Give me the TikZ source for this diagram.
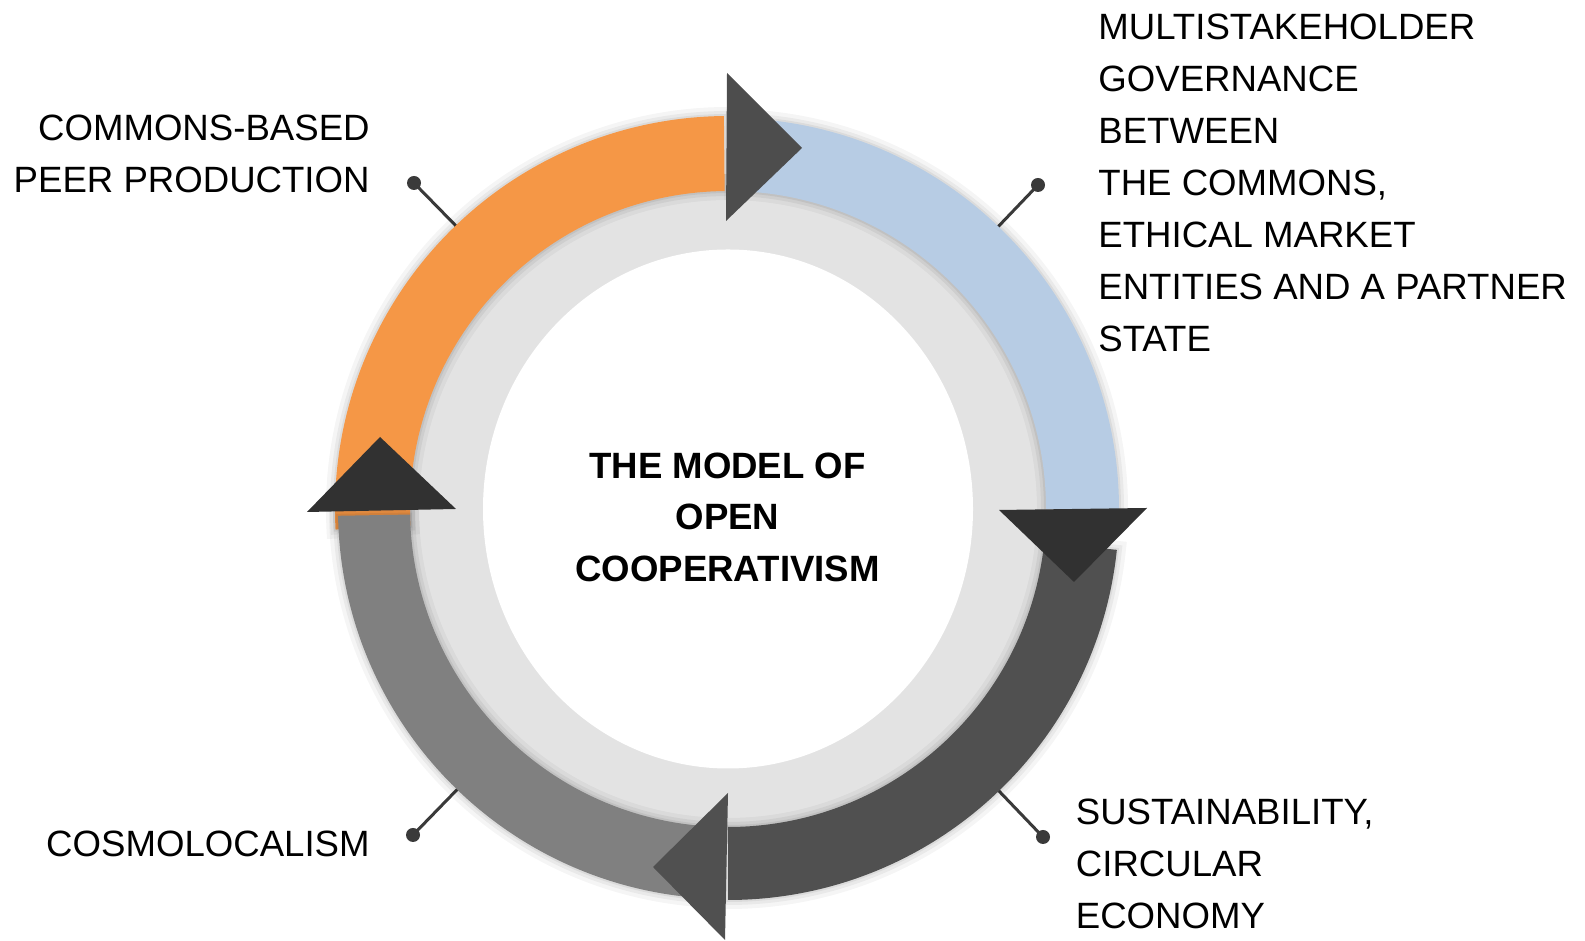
\documentclass[tikz,border=0pt]{standalone}
\usepackage{fontspec}
\setmainfont{Liberation Sans}

\definecolor{bandorange}{HTML}{F59746}
\definecolor{bandblue}{HTML}{B7CCE4}
\definecolor{banddark}{HTML}{505050}
\definecolor{bandgray}{HTML}{808080}
\definecolor{ringgray}{HTML}{E3E3E3}
\definecolor{tipdark}{HTML}{313131}
\definecolor{tipmid}{HTML}{4D4D4D}
\definecolor{leader}{HTML}{3A3A3A}

% one segment of the ring: colour, start, end, inner radius, outer radius
\newcommand{\ringband}[5]{%
  \fill[#1, soft shadow] (#2:#5) arc[start angle=#2, end angle=#3, radius=#5]
    -- (#3:#4) arc[start angle=#3, end angle=#2, radius=#4] -- cycle;}

\begin{document}
\begin{tikzpicture}[x=0.5pt, y=0.5pt,
    label text/.style={font=\fontsize{18.3}{26}\selectfont, inner sep=0pt},
    title text/.style={font=\fontsize{18.3}{25.75}\selectfont\bfseries, inner sep=0pt, align=center},
    dot/.style={circle, fill=leader, inner sep=0pt, minimum size=7pt},
    leader line/.style={draw=leader, line width=1.5pt},
    soft shadow/.style={
      preaction={draw=black, opacity=.04, line width=9pt},
      preaction={draw=black, opacity=.05, line width=5pt},
      preaction={draw=black, opacity=.06, line width=2pt}}]
  \useasboundingbox (0,0) rectangle (1585,941);

  % background ring and white centre
  \fill[ringgray] (728,432) circle[radius=335];
  \fill[white] (728,432) ellipse[x radius=245, y radius=259.5];

  % leader lines, the bands are drawn over them
  \node[dot] (peer-dot) at (414,758) {};
  \coordinate (peer-end) at (505,665);
  \node[dot] (gov-dot) at (1038,756) {};
  \coordinate (gov-end) at (951,665);
  \node[dot] (cosmo-dot) at (413,106) {};
  \coordinate (cosmo-end) at (480,175);
  \node[dot] (sus-dot) at (1043,104) {};
  \coordinate (sus-end) at (975,175);
  \draw[leader line] (peer-dot.center) -- (peer-end);
  \draw[leader line] (gov-dot.center) -- (gov-end);
  \draw[leader line] (cosmo-dot.center) -- (cosmo-end);
  \draw[leader line] (sus-dot.center) -- (sus-end);

  % --------------------------------------------------------------------------
  \begin{scope}[shift={(728,432)}]
    \ringband{bandorange}{90.6}{183}{318}{393}
    \ringband{bandblue}{0}{89}{318}{391}
    \ringband{bandgray}{181}{266}{318}{390}
    \ringband{banddark}{270}{354}{318}{391}
  \end{scope}

  % arrow heads
  \fill[tipmid] (727,868) -- (802,793) -- (726,720) -- cycle;
  \fill[tipdark] (999,431) -- (1147,433) -- (1074,359) -- cycle;
  \fill[banddark] (728,148) -- (653,74) -- (725,1) -- cycle;
  \fill[tipdark] (307,429) -- (456,432) -- (380,504) -- cycle;

  % --------------------------------------------------------------------------
  \node[title text, anchor=north] (title) at (727.5,488.6)
    {THE MODEL OF\\OPEN\\COOPERATIVISM};
  \node[label text, anchor=north east, align=right] (peer) at (370,826)
    {COMMONS-BASED\\PEER PRODUCTION};
  \node[label text, anchor=north west, align=left] (gov) at (1098,927.5)
    {MULTISTAKEHOLDER\\GOVERNANCE\\BETWEEN\\THE COMMONS,\\ETHICAL MARKET\\ENTITIES AND A PARTNER\\STATE};
  \node[label text, anchor=north east] (cosmo) at (370,110) {COSMOLOCALISM};
  \node[label text, anchor=north west, align=left] (sus) at (1075.5,142.5)
    {SUSTAINABILITY,\\CIRCULAR\\ECONOMY};
\end{tikzpicture}
\end{document}
